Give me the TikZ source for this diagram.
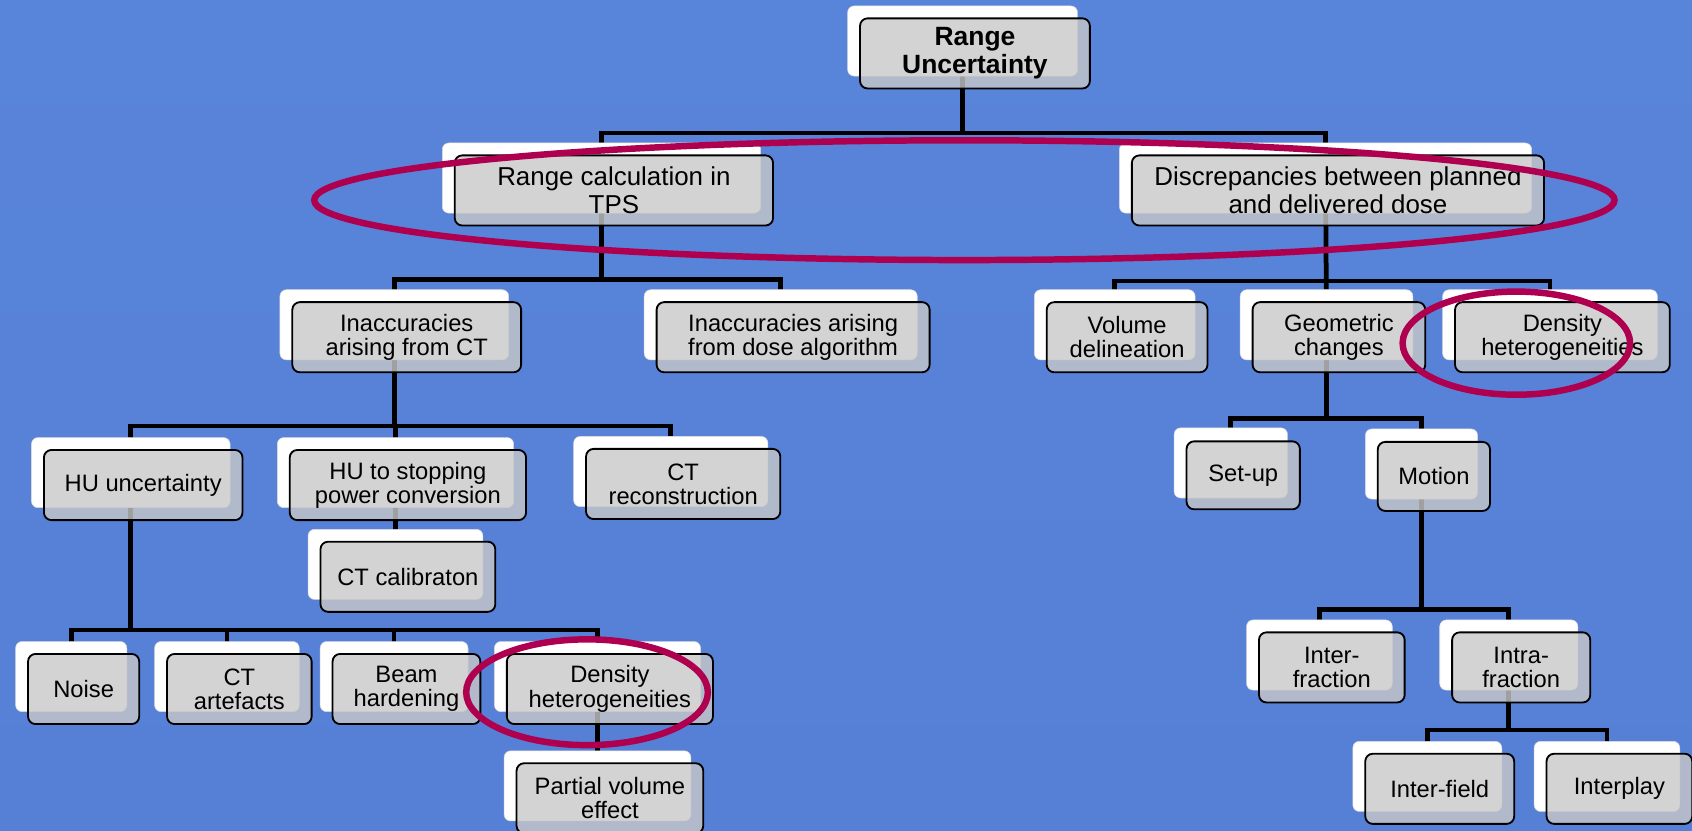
\documentclass[tikz,border=0pt]{standalone}
\usepackage{fontspec}
\setmainfont{Liberation Sans}
\usetikzlibrary{calc}
\pgfdeclarelayer{back}
\pgfdeclarelayer{lines}
\pgfsetlayers{back,lines,main}
\definecolor{bgtop}{RGB}{88,132,218}
\definecolor{bgmid}{RGB}{102,153,255}
\definecolor{bgbot}{RGB}{86,128,214}
\definecolor{hlred}{RGB}{175,0,80}
\definecolor{boxgray}{RGB}{200,200,200}
\tikzset{
  wbox/.style={rectangle, rounded corners=6pt, fill=white, draw=black!15, line width=0.5pt, minimum height=65pt, inner sep=0pt},
  gbox/.style={rectangle, rounded corners=7pt, fill=boxgray, fill opacity=0.8, text opacity=1, draw=black, line width=1.7pt, minimum height=65pt, inner sep=0pt, align=center, font=\fontsize{22}{22.5}\selectfont},
  big/.style={font=\fontsize{24}{26}\selectfont},
  rootfont/.style={font=\bfseries\fontsize{24.5}{25.6}\selectfont},
  conn/.style={line width=4.4pt, black, line join=miter},
  hl/.style={draw=hlred, line width=6pt},
}
\newcommand{\boxpair}[6]{%
  \node[wbox, minimum width=#4pt] (#1) at (#2,#3) {};
  \node[gbox, minimum width=#4pt, #5] (#1g) at ($(#1.center)+(11.5,11.5)$) {#6};
}
\begin{document}
\begin{tikzpicture}[x=1pt,y=-1pt]
\useasboundingbox (0,0) rectangle (1568,770);
\begin{pgfonlayer}{back}
\shade[top color=bgtop, middle color=bgmid, bottom color=bgbot] (0,0) rectangle (1568,770);
\end{pgfonlayer}

\boxpair{root}{892}{38}{213}{rootfont}{Range\\Uncertainty}
\boxpair{rangecalc}{557.4}{165}{295}{big}{Range calculation in\\TPS}
\boxpair{discrep}{1228.4}{165}{382}{big}{Discrepancies between planned\\and delivered dose}
\boxpair{inacct}{365.4}{301}{212}{}{Inaccuracies\\arising from CT}
\boxpair{inacdose}{723.5}{301}{253}{}{Inaccuracies arising\\from dose algorithm}
\boxpair{vol}{1033}{301}{149}{}{Volume\\delineation}
\boxpair{geo}{1229.3}{301}{160}{}{Geometric\\changes}
\boxpair{densR}{1436.4}{301}{199}{}{Density\\heterogeneities}
\boxpair{HUunc}{121.2}{438}{184}{}{HU uncertainty}
\boxpair{HUstop}{366.5}{438}{219}{}{HU to stopping\\power conversion}
\boxpair{CTrec}{621.6}{437}{180}{}{CT\\reconstruction}
\boxpair{CTcal}{366.5}{523}{162}{}{CT calibraton}
\boxpair{noise}{66}{627}{103}{}{Noise}
\boxpair{ctart}{210.3}{627}{134}{}{CT\\artefacts}
\boxpair{beam}{365.2}{627}{137}{}{Beam\\hardening}
\boxpair{densL}{553.7}{627}{191}{}{Density\\heterogeneities}
\boxpair{partial}{553.7}{728.3}{173}{}{Partial volume\\effect}
\boxpair{setup}{1140.6}{429}{105}{minimum height=63pt}{Set-up}
\boxpair{motion}{1317.3}{430}{104}{minimum height=64pt}{Motion}
\boxpair{interfrac}{1222.7}{607}{135}{}{Inter-\\fraction}
\boxpair{intrafrac}{1398.2}{607}{128}{}{Intra-\\fraction}
\boxpair{interfield}{1322.7}{719.5}{138}{}{Inter-field}
\boxpair{interplay}{1489.2}{719.5}{135}{}{Interplay}

\coordinate (b0) at (0,123.3);
\coordinate (b1) at (0,259);
\coordinate (b2) at (0,260.5);
\coordinate (b3) at (0,394.8);
\coordinate (b4) at (0,583.8);
\coordinate (b5) at (0,387.7);
\coordinate (b6) at (0,564.7);
\coordinate (b7) at (0,676.5);

\begin{pgfonlayer}{lines}
% root
\draw[conn] (root.center) -- (root.center |- b0);
\draw[conn] (rangecalc.center) -- (rangecalc.center |- b0) -- (discrep.center |- b0) -- (discrep.center);
% range calc
\draw[conn] (rangecalc.center) -- (rangecalc.center |- b1);
\draw[conn] (inacct.center) -- (inacct.center |- b1) -- (inacdose.center |- b1) -- (inacdose.center);
% discrepancies
\draw[conn] (discrep.center) -- (geo.center);
\draw[conn] (vol.center) -- (vol.center |- b2) -- (densR.center |- b2) -- (densR.center);
% inaccuracies CT
\draw[conn] (inacct.center) -- (inacct.center |- b3);
\draw[conn] (HUunc.center) -- (HUunc.center |- b3) -- (CTrec.center |- b3) -- (CTrec.center);
\draw[conn] (HUstop.center |- b3) -- (HUstop.center);
\draw[conn] (HUstop.center) -- (CTcal.center);
% HU uncertainty
\draw[conn] (HUunc.center) -- (HUunc.center |- b4);
\draw[conn] (noise.center) -- (noise.center |- b4) -- (densL.center |- b4) -- (densL.center);
\draw[conn] (ctart.center |- b4) -- (ctart.center);
\draw[conn] (beam.center |- b4) -- (beam.center);
\draw[conn] (densL.center) -- (partial.center);
% geometric
\draw[conn] (geo.center) -- (geo.center |- b5);
\draw[conn] (setup.center) -- (setup.center |- b5) -- (motion.center |- b5) -- (motion.center);
% motion
\draw[conn] (motion.center) -- (motion.center |- b6);
\draw[conn] (interfrac.center) -- (interfrac.center |- b6) -- (intrafrac.center |- b6) -- (intrafrac.center);
% intra-fraction
\draw[conn] (intrafrac.center) -- (intrafrac.center |- b7);
\draw[conn] (interfield.center) -- (interfield.center |- b7) -- (interplay.center |- b7) -- (interplay.center);
\end{pgfonlayer}

\draw[hl] (893.7,185.5) ellipse [x radius=602.5pt, y radius=55.5pt];
\draw[hl] (1405.2,318) ellipse [x radius=105.4pt, y radius=47.8pt];
\draw[hl] (544,641.5) ellipse [x radius=112pt, y radius=49pt];
\end{tikzpicture}
\end{document}
